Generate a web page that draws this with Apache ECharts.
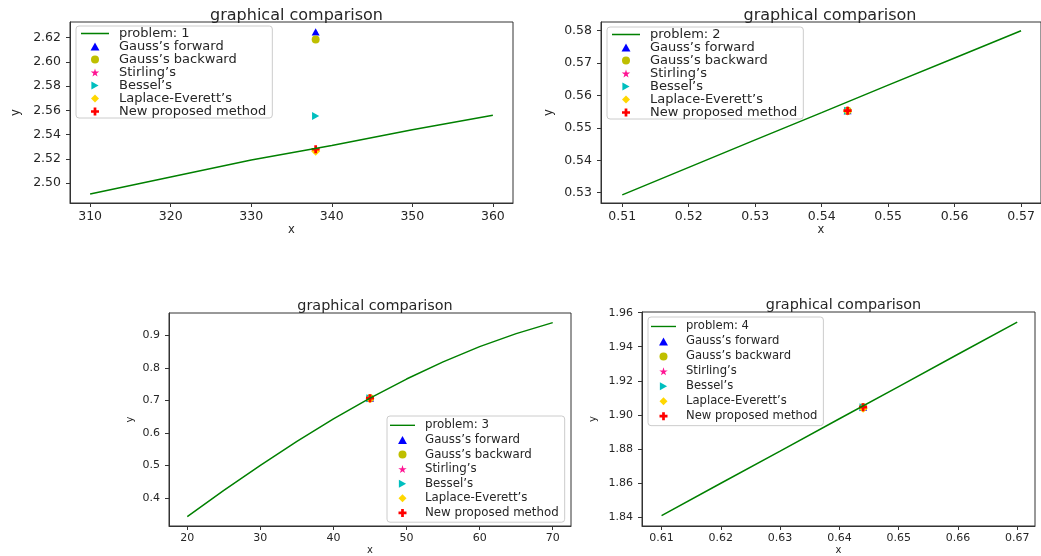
<!DOCTYPE html>
<html>
<head>
<meta charset="utf-8">
<script src="https://cdn.jsdelivr.net/npm/echarts@6/dist/echarts.min.js"></script>
<style>
  html, body { margin: 0; padding: 0; background: #fff; }
  #chart { width: 1041px; height: 556px; }
</style>
</head>
<body>
<div id="chart"></div>
<script>
// method names (legend order)
const methods = ["Gauss’s forward", "Gauss’s backward", "Stirling’s", "Bessel’s", "Laplace-Everett’s", "New proposed method"]

// problem 1
const p1X = [310, 320, 330, 340, 350, 360]
const p1Y = [2.491, 2.505, 2.519, 2.531, 2.544, 2.556]
const p1At = 338
const p1Est = [2.6247, 2.6183, 2.5275, 2.5554, 2.5262, 2.5279]
const p1XTicks = [310, 320, 330, 340, 350, 360]
const p1YTicks = [2.50, 2.52, 2.54, 2.56, 2.58, 2.60, 2.62]

// problem 2
const p2X = [0.51, 0.52, 0.53, 0.54, 0.55, 0.56, 0.57]
const p2Y = [0.5293, 0.5378, 0.5463, 0.5547, 0.5632, 0.5716, 0.5800]
const p2At = 0.5439
const p2Est = [0.5553, 0.5553, 0.5553, 0.5553, 0.5552, 0.5553]
const p2XTicks = [0.51, 0.52, 0.53, 0.54, 0.55, 0.56, 0.57]
const p2YTicks = [0.53, 0.54, 0.55, 0.56, 0.57, 0.58]

// problem 3
const p3X = [20, 25, 30, 35, 40, 45, 50, 55, 60, 65, 70]
const p3Y = [0.342, 0.423, 0.500, 0.574, 0.643, 0.707, 0.766, 0.819, 0.866, 0.906, 0.940]
const p3At = 45
const p3Est = [0.7071, 0.7071, 0.7071, 0.7071, 0.7055, 0.7071]
const p3XTicks = [20, 30, 40, 50, 60, 70]
const p3YTicks = [0.4, 0.5, 0.6, 0.7, 0.8, 0.9]

// problem 4
const p4X = [0.61, 0.62, 0.63, 0.64, 0.65, 0.66, 0.67]
const p4Y = [1.8408, 1.8598, 1.8787, 1.8977, 1.9166, 1.9356, 1.9545]
const p4At = 0.644
const p4Est = [1.9045, 1.9045, 1.9045, 1.9045, 1.9038, 1.9045]
const p4XTicks = [0.61, 0.62, 0.63, 0.64, 0.65, 0.66, 0.67]
const p4YTicks = [1.84, 1.86, 1.88, 1.90, 1.92, 1.94, 1.96]

// path symbols so the legend keeps their aspect ratio
const TRI_UP = "path://M50,0 L100,90 L0,90 Z"
const TRI_RIGHT = "path://M0,0 L90,50 L0,100 Z"
const DIAMOND = "path://M50,0 L100,50 L50,100 L0,50 Z"
const STAR = "path://M50,0 L61,35 L98,35 L68,57 L79,91 L50,70 L21,91 L32,57 L2,35 L39,35 Z"
const PLUS = "path://M33,0 H67 V33 H100 V67 H67 V100 H33 V67 H0 V33 H33 Z"
const LINE_ICON = "path://M0,0 H100 V5.5 H0 Z"

const markers = [
  { symbol: TRI_UP, color: "#0000ff", size: 8 },
  { symbol: "circle", color: "#bfbf00", size: 8 },
  { symbol: STAR, color: "#ff1493", size: 8 },
  { symbol: TRI_RIGHT, color: "#00bfbf", size: 8 },
  { symbol: DIAMOND, color: "#ffd700", size: 9 },
  { symbol: PLUS, color: "#ff0000", size: 8 },
]

const FONT = "DejaVu Sans"
const TEXT = "#262626"

const panels = [
  { name: "problem: 1", x: p1X, y: p1Y, at: p1At, est: p1Est, xTicks: p1XTicks, yTicks: p1YTicks,
    xDec: 0, yDec: 2, xMin: 307.5, xMax: 362.5, yMin: 2.4836, yMax: 2.6328,
    grid: { left: 70, top: 22, width: 443, height: 181 },
    legend: { left: 76, top: 26, pitch: 12.4, font: 13, handle: 28, pad: [1, 6, 0, 5] },
    font: 12.5, titleFont: 16, titleTop: 3, yNameGap: 48, xNameGap: 17 },
  { name: "problem: 2", x: p2X, y: p2Y, at: p2At, est: p2Est, xTicks: p2XTicks, yTicks: p2YTicks,
    xDec: 2, yDec: 2, xMin: 0.5068, xMax: 0.573, yMin: 0.5268, yMax: 0.5827,
    grid: { left: 601, top: 22, width: 448, height: 181 },
    legend: { left: 607, top: 27, pitch: 12.4, font: 13, handle: 28, pad: [1, 6, 0, 5] },
    font: 12.5, titleFont: 16, titleTop: 3, yNameGap: 46, xNameGap: 17 },
  { name: "problem: 3", x: p3X, y: p3Y, at: p3At, est: p3Est, xTicks: p3XTicks, yTicks: p3YTicks,
    xDec: 0, yDec: 1, xMin: 17.5, xMax: 72.5, yMin: 0.313, yMax: 0.9696,
    grid: { left: 169, top: 313, width: 402, height: 214 },
    legend: { left: 387, top: 416, pitch: 14.6, font: 11.8, handle: 25, pad: [2, 6, 2, 3] },
    font: 11, titleFont: 14.4, titleTop: 294, yNameGap: 34, xNameGap: 19 },
  { name: "problem: 4", x: p4X, y: p4Y, at: p4At, est: p4Est, xTicks: p4XTicks, yTicks: p4YTicks,
    xDec: 2, yDec: 2, xMin: 0.6067, xMax: 0.673, yMin: 1.8347, yMax: 1.9604,
    grid: { left: 642, top: 312, width: 393, height: 214 },
    legend: { left: 648, top: 317, pitch: 14.95, font: 11.6, handle: 25, pad: [2, 6, 2, 3] },
    font: 11, titleFont: 14.4, titleTop: 293, yNameGap: 44, xNameGap: 19 },
]

const option = {
  animation: false,
  backgroundColor: "#ffffff",
  textStyle: { fontFamily: FONT },
  title: [],
  grid: [],
  xAxis: [],
  yAxis: [],
  legend: [],
  series: [],
}

panels.forEach((p, i) => {
  option.title.push({
    text: "graphical comparison",
    left: p.grid.left + p.grid.width / 2,
    top: p.titleTop,
    textAlign: "center",
    textStyle: { fontFamily: FONT, fontSize: p.titleFont, fontWeight: "normal", color: TEXT },
  })

  option.grid.push({
    left: p.grid.left, top: p.grid.top, width: p.grid.width, height: p.grid.height,
    show: true, borderColor: "#333", borderWidth: 1, backgroundColor: "transparent",
  })

  const axisCommon = {
    type: "value",
    gridIndex: i,
    nameLocation: "middle",
    nameTextStyle: { fontFamily: FONT, fontSize: p.font - 1, color: TEXT },
    axisLine: { show: true, onZero: false, lineStyle: { color: "#333", width: 1 } },
    axisTick: { show: true, inside: false, length: 4, lineStyle: { color: "#333" } },
    splitLine: { show: false },
  }

  option.xAxis.push({
    ...axisCommon,
    name: "x",
    nameGap: p.xNameGap,
    min: p.xMin,
    max: p.xMax,
    axisTick: { ...axisCommon.axisTick, customValues: p.xTicks },
    axisLabel: {
      customValues: p.xTicks, margin: 7, fontFamily: FONT, fontSize: p.font, color: TEXT,
      formatter: (v) => v.toFixed(p.xDec),
    },
  })

  option.yAxis.push({
    ...axisCommon,
    name: "y",
    nameGap: p.yNameGap,
    min: p.yMin,
    max: p.yMax,
    axisTick: { ...axisCommon.axisTick, customValues: p.yTicks },
    axisLabel: {
      customValues: p.yTicks, margin: 9, fontFamily: FONT, fontSize: p.font, color: TEXT,
      formatter: (v) => v.toFixed(p.yDec),
    },
  })

  option.legend.push({
    orient: "vertical",
    left: p.legend.left,
    top: p.legend.top,
    data: [{ name: p.name, icon: LINE_ICON, itemStyle: { color: "#008000" } }].concat(methods),
    itemWidth: p.legend.handle,
    itemHeight: 8,
    itemGap: 0,
    padding: p.legend.pad,
    backgroundColor: "rgba(255,255,255,0.8)",
    borderColor: "#cccccc",
    borderWidth: 1,
    borderRadius: 3,
    selectedMode: false,
    textStyle: {
      fontFamily: FONT, fontSize: p.legend.font, color: TEXT,
      lineHeight: p.legend.pitch, padding: [0, 0, 0, 5],
    },
  })

  option.series.push({
    name: p.name,
    type: "line",
    xAxisIndex: i,
    yAxisIndex: i,
    data: p.x.map((x, k) => [x, p.y[k]]),
    symbol: "none",
    lineStyle: { color: "#008000", width: 1.5 },
    itemStyle: { color: "#008000" },
  })

  methods.forEach((m, k) => {
    option.series.push({
      name: m,
      type: "scatter",
      xAxisIndex: i,
      yAxisIndex: i,
      data: [[p.at, p.est[k]]],
      symbol: markers[k].symbol,
      symbolSize: markers[k].size,
      symbolKeepAspect: true,
      itemStyle: { color: markers[k].color, opacity: 1 },
    })
  })
})

const chart = echarts.init(document.getElementById("chart"))
chart.setOption(option)
</script>
</body>
</html>
